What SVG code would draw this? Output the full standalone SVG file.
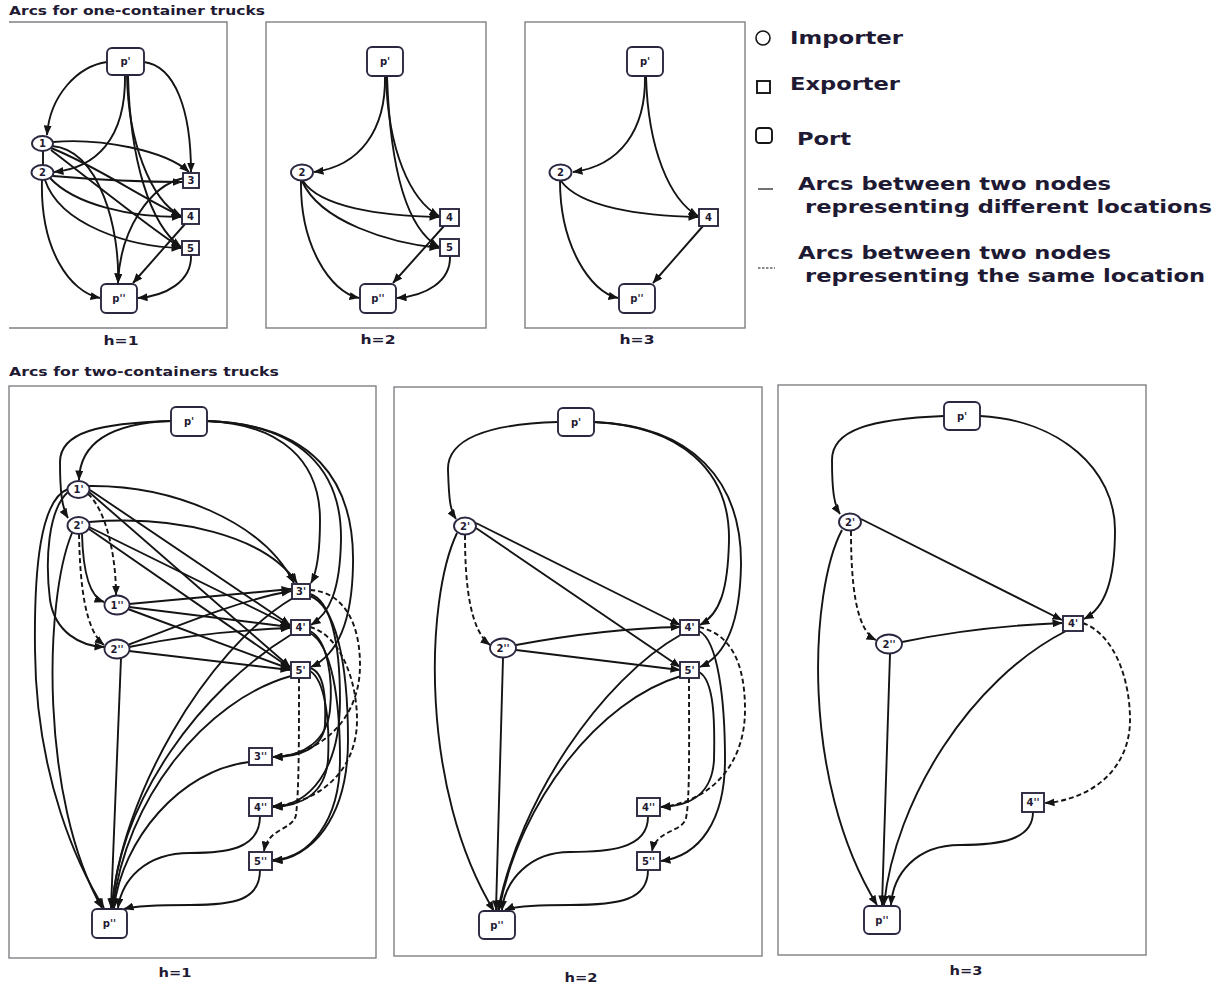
<svg xmlns="http://www.w3.org/2000/svg" width="1220" height="985" viewBox="0 0 1220 985">
<defs>
<marker id="a" viewBox="0 0 10 8" refX="9.5" refY="4" markerWidth="10" markerHeight="8" orient="auto" markerUnits="userSpaceOnUse"><path d="M0,0L10,4L0,8z" fill="#141414"/></marker>
<style>
.t{font-family:"DejaVu Sans","Liberation Sans",sans-serif;font-weight:bold;fill:#1f1a33}
.lb{font-family:"DejaVu Sans","Liberation Sans",sans-serif;font-weight:bold;fill:#1f1a33;font-size:10px;text-anchor:middle}
.fr{fill:none;stroke:#808085;stroke-width:1.4}
.n{fill:#fff;stroke:#2c2740;stroke-width:1.9}
.e path{fill:none;stroke:#141414;stroke-width:1.9;marker-end:url(#a)}
.e path.d{stroke-dasharray:5,3}
.e path.nm{marker-end:none}
</style>
</defs>
<rect width="1220" height="985" fill="#fff"/>

<!-- titles -->
<text class="t" x="9" y="15" font-size="12.5" textLength="256" lengthAdjust="spacingAndGlyphs">Arcs for one-container trucks</text>
<text class="t" x="9" y="376" font-size="12.5" textLength="270" lengthAdjust="spacingAndGlyphs">Arcs for two-containers trucks</text>

<!-- frames -->
<path class="fr" d="M9,22H227V328H9"/>
<rect class="fr" x="266" y="22" width="220" height="306"/>
<rect class="fr" x="525" y="22" width="220" height="306"/>
<rect class="fr" x="9" y="386" width="367" height="572"/>
<rect class="fr" x="394" y="387" width="368" height="569"/>
<rect class="fr" x="778" y="385" width="368" height="570"/>

<text class="t" x="121" y="345" font-size="12" text-anchor="middle" textLength="35" lengthAdjust="spacingAndGlyphs">h=1</text>
<text class="t" x="378" y="344" font-size="12" text-anchor="middle" textLength="35" lengthAdjust="spacingAndGlyphs">h=2</text>
<text class="t" x="637" y="344" font-size="12" text-anchor="middle" textLength="35" lengthAdjust="spacingAndGlyphs">h=3</text>
<text class="t" x="175" y="977" font-size="12" text-anchor="middle" textLength="33" lengthAdjust="spacingAndGlyphs">h=1</text>
<text class="t" x="581" y="982" font-size="12" text-anchor="middle" textLength="33" lengthAdjust="spacingAndGlyphs">h=2</text>
<text class="t" x="966" y="975" font-size="12" text-anchor="middle" textLength="33" lengthAdjust="spacingAndGlyphs">h=3</text>

<!-- legend -->
<g id="legend">
<circle cx="763" cy="38" r="7" fill="none" stroke="#141414" stroke-width="1.6"/>
<text class="t" x="790" y="44" font-size="18" textLength="113" lengthAdjust="spacingAndGlyphs">Importer</text>
<rect x="757" y="81" width="13" height="12" fill="none" stroke="#141414" stroke-width="1.9"/>
<text class="t" x="790" y="90" font-size="18" textLength="110" lengthAdjust="spacingAndGlyphs">Exporter</text>
<rect x="756" y="128" width="16" height="15" rx="3.5" fill="none" stroke="#141414" stroke-width="1.9"/>
<text class="t" x="797" y="145" font-size="18" textLength="54" lengthAdjust="spacingAndGlyphs">Port</text>
<line x1="758" y1="189" x2="773" y2="189" stroke="#141414" stroke-width="1.2"/>
<text class="t" x="798" y="190" font-size="18" textLength="313" lengthAdjust="spacingAndGlyphs">Arcs between two nodes</text>
<text class="t" x="805" y="213" font-size="18" textLength="407" lengthAdjust="spacingAndGlyphs">representing different locations</text>
<line x1="758" y1="268" x2="775" y2="268" stroke="#141414" stroke-width="1" stroke-dasharray="2.5,1.5"/>
<text class="t" x="798" y="259" font-size="18" textLength="313" lengthAdjust="spacingAndGlyphs">Arcs between two nodes</text>
<text class="t" x="805" y="282" font-size="18" textLength="400" lengthAdjust="spacingAndGlyphs">representing the same location</text>
</g>

<!-- connectors -->
<g id="connectors" class="e">
<!-- top h=1 -->
<path d="M107,62 C78,66 50,95 47,135"/>
<path d="M125,75 C126,140 95,168 54,172"/>
<path d="M144,62 C175,66 191,110 191,172"/>
<path d="M127,75 C128,140 150,200 181,216"/>
<path d="M128,75 C130,160 150,225 181,247"/>
<path d="M53,142 C100,138 165,150 189,172"/>
<path d="M51,148 C95,165 145,200 181,216"/>
<path d="M51,150 C90,180 150,228 181,248"/>
<path d="M52,146 C100,150 120,230 118,283"/>
<path class="nm" d="M43,151 L43,165"/>
<path d="M53,176 C100,180 150,182 182,182"/>
<path d="M50,178 C75,205 130,217 181,217"/>
<path d="M45,180 C60,225 130,247 181,248"/>
<path d="M42,180 C40,250 70,292 100,298"/>
<path d="M184,178 C150,185 120,230 118,283"/>
<path d="M185,224 L133,283"/>
<path d="M191,255 C192,282 165,296 138,298"/>
<!-- top h=2 -->
<path d="M385,76 C386,130 360,166 314,172"/>
<path d="M386,76 C388,150 410,200 439,216"/>
<path d="M387,76 C390,165 405,228 439,247"/>
<path d="M303,181 C320,207 380,216 439,217"/>
<path d="M302,181 C320,222 390,243 439,248"/>
<path d="M301,181 C300,245 330,292 359,298"/>
<path d="M444,226 L393,283"/>
<path d="M450,256 C451,282 425,296 397,298"/>
<!-- top h=3 -->
<path d="M645,76 C646,130 620,166 573,172"/>
<path d="M646,76 C648,150 670,200 698,216"/>
<path d="M561,181 C580,207 640,216 698,217"/>
<path d="M560,181 C560,245 590,292 618,298"/>
<path d="M703,226 L653,283"/>

<!-- bottom h=1 -->
<path d="M171,421 C115,423 80,440 79,480"/>
<path d="M171,421 C100,423 60,432 60,462 C60,492 62,508 68,518"/>
<path d="M207,421 C280,424 320,460 320,520 C320,555 317,572 311,583"/>
<path d="M207,421 C300,424 342,470 341,540 C340,590 330,613 311,625"/>
<path d="M207,421 C312,424 355,480 353,565 C352,625 335,656 311,667"/>
<path class="d" d="M88,494 C106,510 116,555 116,595"/>
<path d="M68,492 C48,510 45,560 50,600 C55,632 80,646 104,647"/>
<path d="M68,489 C40,500 34,570 35,650 C36,780 80,870 104,908"/>
<path d="M89,486 C170,485 262,520 294,583"/>
<path d="M90,490 L290,625"/>
<path d="M89,492 L290,667"/>
<path class="d" d="M79,534 C80,585 85,630 104,645"/>
<path d="M82,534 C83,572 90,597 104,602"/>
<path d="M89,522 C175,515 265,535 297,583"/>
<path d="M89,527 L290,626"/>
<path d="M89,529 L290,668"/>
<path d="M72,533 C44,600 40,800 102,908"/>
<path d="M129,604 L291,589"/>
<path d="M129,607 L290,627"/>
<path d="M128,609 L290,669"/>
<path d="M128,645 C180,625 240,600 291,591"/>
<path d="M129,647 C180,636 240,630 290,628"/>
<path d="M129,651 L290,670"/>
<path d="M121,658 L111,908"/>
<path d="M293,598 C205,650 120,800 112,908"/>
<path class="d" d="M310,590 C345,592 360,625 360,665 C360,720 320,755 273,757"/>
<path d="M310,594 C330,600 340,640 340,700 C340,770 310,805 273,807"/>
<path d="M310,596 C335,605 348,660 348,740 C348,820 310,858 273,861"/>
<path d="M292,634 C200,690 120,800 112,908"/>
<path class="d" d="M310,627 C340,635 357,680 357,720 C357,770 320,803 273,806"/>
<path d="M310,631 C328,640 333,680 330,710 C327,740 305,756 273,757"/>
<path d="M310,633 C332,645 340,700 340,760 C340,820 310,858 273,860"/>
<path d="M291,676 C205,700 125,800 113,908"/>
<path class="d" d="M299,678 C299,740 299,790 296,815 C293,830 268,828 264,851"/>
<path d="M310,668 C325,672 326,700 325,725 C323,748 300,757 273,757"/>
<path d="M310,671 C325,680 330,720 328,760 C325,795 300,806 273,807"/>
<path d="M249,762 C180,770 122,840 114,908"/>
<path d="M260,816 C260,850 225,853 190,853 C145,853 122,880 118,908"/>
<path d="M260,870 C260,900 235,905 190,905 C160,905 135,906 124,909"/>

<!-- bottom h=2 -->
<path d="M558,422 C485,424 447,440 448,470 C449,500 450,510 456,519"/>
<path d="M594,422 C680,426 730,470 729,540 C728,590 720,614 700,625"/>
<path d="M594,422 C692,426 742,480 741,565 C740,625 725,656 700,667"/>
<path d="M476,523 L680,625"/>
<path d="M476,528 L680,667"/>
<path class="d" d="M465,535 C465,585 470,630 490,645"/>
<path d="M457,533 C425,600 420,790 494,911"/>
<path d="M516,645 C570,635 630,628 680,627"/>
<path d="M516,650 L680,670"/>
<path d="M503,658 L496,910"/>
<path d="M682,634 C600,680 520,800 498,910"/>
<path d="M681,676 C600,700 520,800 499,910"/>
<path class="d" d="M699,627 C735,635 745,670 745,710 C745,765 710,802 661,807"/>
<path d="M699,631 C718,640 725,700 725,760 C725,820 700,856 661,861"/>
<path d="M699,672 C714,680 715,720 714,760 C712,795 690,806 661,807"/>
<path class="d" d="M689,678 C689,740 690,800 686,818 C683,832 656,830 652,851"/>
<path d="M648,817 C648,850 605,852 570,852 C530,852 505,880 502,910"/>
<path d="M648,870 C648,900 620,905 570,905 C535,905 515,906 505,910"/>

<!-- bottom h=3 -->
<path d="M944,416 C870,419 832,430 832,460 C832,490 834,505 840,514"/>
<path d="M980,416 C1060,420 1115,470 1115,530 C1115,580 1105,608 1084,619"/>
<path d="M861,519 L1062,620"/>
<path class="d" d="M851,531 C851,580 855,630 876,640"/>
<path d="M842,530 C810,590 800,780 877,905"/>
<path d="M902,642 C950,632 1010,625 1062,623"/>
<path d="M890,654 L882,905"/>
<path d="M1066,631 C970,680 895,800 884,905"/>
<path class="d" d="M1083,623 C1115,635 1130,680 1130,720 C1130,770 1090,800 1045,803"/>
<path d="M1033,812 C1033,840 1000,845 960,845 C915,845 893,875 891,905"/>
</g>

<!-- nodes: top h=1 -->
<g id="t1-pp"><rect class="n" x="107" y="48" width="37" height="27" rx="5"/><text class="lb" x="125.5" y="65">p'</text></g>
<g id="t1-1"><ellipse class="n" cx="42.5" cy="143.5" rx="10.5" ry="7.5"/><text class="lb" x="42.5" y="147">1</text></g>
<g id="t1-2"><ellipse class="n" cx="42.5" cy="172.5" rx="11" ry="7.5"/><text class="lb" x="42.5" y="176">2</text></g>
<g id="t1-3"><rect class="n" x="183" y="173" width="16" height="15"/><text class="lb" x="191" y="184">3</text></g>
<g id="t1-4"><rect class="n" x="182" y="209" width="17" height="15"/><text class="lb" x="190.5" y="220">4</text></g>
<g id="t1-5"><rect class="n" x="182" y="241" width="17" height="14"/><text class="lb" x="190.5" y="251.5">5</text></g>
<g id="t1-ppp"><rect class="n" x="101" y="284" width="36" height="29" rx="5"/><text class="lb" x="119" y="302">p''</text></g>

<!-- nodes: top h=2 -->
<g id="t2-pp"><rect class="n" x="367" y="47" width="36" height="29" rx="5"/><text class="lb" x="385" y="65">p'</text></g>
<g id="t2-2"><ellipse class="n" cx="302" cy="172.5" rx="11" ry="8"/><text class="lb" x="302" y="176">2</text></g>
<g id="t2-4"><rect class="n" x="440" y="209" width="19" height="17"/><text class="lb" x="449.5" y="221">4</text></g>
<g id="t2-5"><rect class="n" x="440" y="239" width="19" height="17"/><text class="lb" x="449.5" y="251">5</text></g>
<g id="t2-ppp"><rect class="n" x="360" y="284" width="36" height="29" rx="5"/><text class="lb" x="378" y="302">p''</text></g>

<!-- nodes: top h=3 -->
<g id="t3-pp"><rect class="n" x="627" y="47" width="36" height="29" rx="5"/><text class="lb" x="645" y="65">p'</text></g>
<g id="t3-2"><ellipse class="n" cx="560.5" cy="172.5" rx="11" ry="8"/><text class="lb" x="560.5" y="176">2</text></g>
<g id="t3-4"><rect class="n" x="699" y="209" width="19" height="17"/><text class="lb" x="708.5" y="221">4</text></g>
<g id="t3-ppp"><rect class="n" x="619" y="284" width="36" height="29" rx="5"/><text class="lb" x="637" y="302">p''</text></g>

<!-- nodes: bottom h=1 -->
<g id="b1-pp"><rect class="n" x="171" y="407" width="36" height="29" rx="5"/><text class="lb" x="189" y="425">p'</text></g>
<g id="b1-1a"><ellipse class="n" cx="78.5" cy="489.5" rx="11" ry="8.5"/><text class="lb" x="78.5" y="493">1'</text></g>
<g id="b1-2a"><ellipse class="n" cx="78.5" cy="525.5" rx="11" ry="8.5"/><text class="lb" x="78.5" y="529">2'</text></g>
<g id="b1-1b"><ellipse class="n" cx="117" cy="605" rx="12.5" ry="9.5"/><text class="lb" x="117" y="608.5">1''</text></g>
<g id="b1-2b"><ellipse class="n" cx="117" cy="649" rx="12.5" ry="9.5"/><text class="lb" x="117" y="652.5">2''</text></g>
<g id="b1-3a"><rect class="n" x="292" y="584" width="18" height="15"/><text class="lb" x="301" y="595">3'</text></g>
<g id="b1-4a"><rect class="n" x="291" y="620" width="19" height="15"/><text class="lb" x="300.5" y="631">4'</text></g>
<g id="b1-5a"><rect class="n" x="291" y="662" width="19" height="16"/><text class="lb" x="300.5" y="673.5">5'</text></g>
<g id="b1-3b"><rect class="n" x="249" y="748" width="23" height="17"/><text class="lb" x="260.5" y="760">3''</text></g>
<g id="b1-4b"><rect class="n" x="249" y="798" width="23" height="18"/><text class="lb" x="260.5" y="810.5">4''</text></g>
<g id="b1-5b"><rect class="n" x="249" y="852" width="23" height="18"/><text class="lb" x="260.5" y="864.5">5''</text></g>
<g id="b1-ppp"><rect class="n" x="92" y="909" width="35" height="29" rx="5"/><text class="lb" x="109.5" y="927">p''</text></g>

<!-- nodes: bottom h=2 -->
<g id="b2-pp"><rect class="n" x="558" y="408" width="36" height="28" rx="5"/><text class="lb" x="576" y="425.5">p'</text></g>
<g id="b2-2a"><ellipse class="n" cx="465" cy="526" rx="11" ry="8.5"/><text class="lb" x="465" y="529.5">2'</text></g>
<g id="b2-2b"><ellipse class="n" cx="503" cy="648" rx="13" ry="9.5"/><text class="lb" x="503" y="651.5">2''</text></g>
<g id="b2-4a"><rect class="n" x="680" y="620" width="19" height="15"/><text class="lb" x="689.5" y="631">4'</text></g>
<g id="b2-5a"><rect class="n" x="680" y="662" width="19" height="16"/><text class="lb" x="689.5" y="673.5">5'</text></g>
<g id="b2-4b"><rect class="n" x="637" y="798" width="23" height="18"/><text class="lb" x="648.5" y="810.5">4''</text></g>
<g id="b2-5b"><rect class="n" x="637" y="852" width="23" height="18"/><text class="lb" x="648.5" y="864.5">5''</text></g>
<g id="b2-ppp"><rect class="n" x="479" y="911" width="36" height="28" rx="5"/><text class="lb" x="497" y="928.5">p''</text></g>

<!-- nodes: bottom h=3 -->
<g id="b3-pp"><rect class="n" x="944" y="402" width="36" height="28" rx="5"/><text class="lb" x="962" y="419.5">p'</text></g>
<g id="b3-2a"><ellipse class="n" cx="850" cy="522" rx="11" ry="8.5"/><text class="lb" x="850" y="525.5">2'</text></g>
<g id="b3-2b"><ellipse class="n" cx="889" cy="644" rx="13" ry="9.5"/><text class="lb" x="889" y="647.5">2''</text></g>
<g id="b3-4a"><rect class="n" x="1063" y="616" width="20" height="15"/><text class="lb" x="1073" y="627">4'</text></g>
<g id="b3-4b"><rect class="n" x="1022" y="793" width="22" height="19"/><text class="lb" x="1033" y="806">4''</text></g>
<g id="b3-ppp"><rect class="n" x="864" y="906" width="36" height="28" rx="5"/><text class="lb" x="882" y="923.5">p''</text></g>
</svg>
